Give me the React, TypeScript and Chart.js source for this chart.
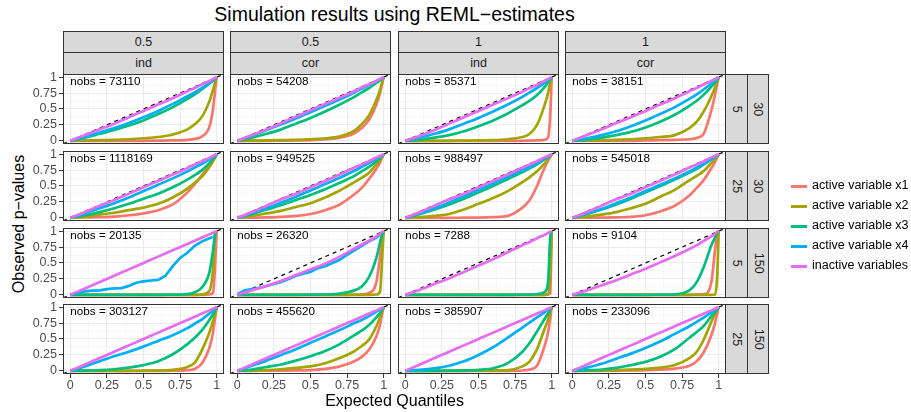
import { useEffect, useRef } from 'react';
import { Chart, registerables } from 'chart.js';

Chart.register(...registerables);

const FONT = '"Liberation Sans", Arial, Helvetica, sans-serif';

// facet labels (columns: alpha / structure, rows: p / n)
const COL_ALPHA = ['0.5', '0.5', '1', '1'];
const COL_STRUCT = ['ind', 'cor', 'ind', 'cor'];
const ROW_P = ['5', '25', '5', '25'];
const ROW_N = ['30', '30', '150', '150'];
const NOBS = [73110, 54208, 85371, 38151, 1118169, 949525, 988497, 545018, 20135, 26320, 7288, 9104, 303127, 455620, 385907, 233096];

const SERIES = ['active variable x1', 'active variable x2', 'active variable x3', 'active variable x4', 'inactive variables'];
const COLORS = ['#F8766D', '#A3A500', '#00BF7D', '#00B0F6', '#E76BF3'];

// expected quantiles at which the observed p-values were read
const Q = [0, 0.1, 0.2, 0.3, 0.4, 0.5, 0.6, 0.7, 0.8, 0.85, 0.9, 0.95, 0.975, 0.99, 1];
const Q_FINE = [0, 0.05, 0.1, 0.15, 0.2, 0.25, 0.3, 0.35, 0.4, 0.45, 0.5, 0.55, 0.6, 0.65, 0.7, 0.75, 0.8, 0.85, 0.9, 0.95, 0.975];

const MAJOR_BREAKS = [0, 0.25, 0.5, 0.75, 1];
const MINOR_BREAKS = [0.125, 0.375, 0.625, 0.875];
const AXIS_LIMITS = [-0.05, 1.05];

// one row per panel, row-major order
const ACTIVE_X1 = [
  [0, 0, 0, 0, 0, 0, 0.003, 0.006, 0.015, 0.03, 0.07, 0.22, 0.5, 0.8, 1],
  [0, 0, 0, 0.003, 0.006, 0.012, 0.025, 0.05, 0.12, 0.2, 0.33, 0.57, 0.75, 0.9, 1],
  [0, 0, 0, 0, 0, 0, 0, 0, 0, 0.003, 0.006, 0.015, 0.05, 0.4, 1],
  [0, 0, 0, 0, 0, 0.005, 0.01, 0.015, 0.025, 0.045, 0.12, 0.48, 0.72, 0.9, 1],
  [0, 0.005, 0.01, 0.02, 0.04, 0.07, 0.12, 0.21, 0.4, 0.53, 0.67, 0.83, 0.91, 0.96, 1],
  [0, 0.003, 0.007, 0.015, 0.03, 0.06, 0.12, 0.21, 0.37, 0.47, 0.61, 0.77, 0.87, 0.95, 1],
  [0, 0, 0, 0, 0.002, 0.004, 0.01, 0.03, 0.16, 0.28, 0.5, 0.78, 0.9, 0.96, 1],
  [0, 0.002, 0.004, 0.008, 0.015, 0.04, 0.1, 0.19, 0.35, 0.47, 0.6, 0.78, 0.88, 0.95, 1],
  [0, 0, 0, 0, 0, 0, 0, 0, 0, 0, 0, 0.005, 0.03, 0.5, 1],
  [0, 0, 0, 0, 0, 0, 0, 0, 0.003, 0.008, 0.03, 0.2, 0.6, 0.9, 1],
  [0, 0, 0, 0, 0, 0, 0, 0, 0, 0, 0, 0, 0.005, 0.02, 1],
  [0, 0, 0, 0, 0, 0, 0, 0, 0, 0.003, 0.01, 0.2, 0.7, 0.95, 1],
  [0, 0, 0, 0, 0, 0, 0, 0.003, 0.01, 0.03, 0.12, 0.36, 0.6, 0.85, 1],
  [0, 0, 0.002, 0.004, 0.007, 0.012, 0.03, 0.07, 0.15, 0.22, 0.33, 0.54, 0.72, 0.9, 1],
  [0, 0, 0, 0, 0, 0, 0, 0, 0.005, 0.02, 0.08, 0.38, 0.6, 0.82, 1],
  [0, 0, 0, 0.002, 0.005, 0.01, 0.02, 0.035, 0.08, 0.15, 0.3, 0.56, 0.75, 0.9, 1],
];

const ACTIVE_X2 = [
  [0, 0.005, 0.01, 0.015, 0.025, 0.04, 0.06, 0.1, 0.18, 0.26, 0.38, 0.62, 0.8, 0.93, 1],
  [0, 0.003, 0.006, 0.01, 0.015, 0.025, 0.04, 0.07, 0.16, 0.26, 0.4, 0.64, 0.8, 0.92, 1],
  [0, 0, 0, 0, 0.003, 0.006, 0.01, 0.025, 0.06, 0.11, 0.25, 0.55, 0.75, 0.92, 1],
  [0, 0.005, 0.01, 0.015, 0.025, 0.04, 0.06, 0.09, 0.2, 0.3, 0.47, 0.7, 0.84, 0.94, 1],
  [0, 0.02, 0.05, 0.08, 0.12, 0.16, 0.22, 0.32, 0.46, 0.55, 0.65, 0.8, 0.89, 0.95, 1],
  [0, 0.03, 0.07, 0.11, 0.17, 0.23, 0.32, 0.43, 0.56, 0.63, 0.71, 0.84, 0.91, 0.96, 1],
  [0, 0.01, 0.03, 0.06, 0.13, 0.22, 0.31, 0.42, 0.56, 0.64, 0.73, 0.85, 0.92, 0.97, 1],
  [0, 0.02, 0.05, 0.09, 0.15, 0.22, 0.33, 0.44, 0.59, 0.66, 0.74, 0.86, 0.92, 0.97, 1],
  [0, 0, 0, 0, 0, 0, 0, 0, 0, 0, 0.005, 0.06, 0.4, 0.97, 1],
  [0, 0, 0, 0, 0, 0, 0, 0, 0, 0, 0, 0.005, 0.05, 0.6, 1],
  [0, 0, 0, 0, 0, 0, 0, 0, 0, 0, 0, 0, 0.01, 0.35, 1],
  [0, 0, 0, 0, 0, 0, 0, 0, 0, 0, 0, 0, 0.005, 0.3, 1],
  [0, 0, 0, 0, 0, 0.002, 0.005, 0.015, 0.06, 0.13, 0.33, 0.6, 0.78, 0.9, 1],
  [0, 0.005, 0.012, 0.025, 0.045, 0.07, 0.12, 0.2, 0.31, 0.39, 0.49, 0.7, 0.84, 0.94, 1],
  [0, 0, 0, 0, 0, 0.002, 0.005, 0.012, 0.07, 0.15, 0.34, 0.65, 0.8, 0.93, 1],
  [0, 0.002, 0.005, 0.01, 0.018, 0.03, 0.05, 0.09, 0.2, 0.3, 0.5, 0.77, 0.89, 0.96, 1],
];

const ACTIVE_X3 = [
  [0, 0.05, 0.11, 0.17, 0.24, 0.32, 0.42, 0.53, 0.66, 0.73, 0.81, 0.9, 0.95, 0.98, 1],
  [0, 0.05, 0.11, 0.18, 0.27, 0.36, 0.46, 0.57, 0.69, 0.76, 0.83, 0.91, 0.95, 0.98, 1],
  [0, 0.02, 0.05, 0.09, 0.15, 0.23, 0.32, 0.43, 0.56, 0.63, 0.72, 0.84, 0.92, 0.97, 1],
  [0, 0.02, 0.05, 0.09, 0.14, 0.21, 0.3, 0.41, 0.55, 0.63, 0.73, 0.85, 0.92, 0.97, 1],
  [0, 0.04, 0.09, 0.15, 0.22, 0.3, 0.38, 0.48, 0.6, 0.67, 0.75, 0.86, 0.93, 0.97, 1],
  [0, 0.06, 0.13, 0.2, 0.28, 0.36, 0.45, 0.55, 0.66, 0.73, 0.8, 0.89, 0.94, 0.98, 1],
  [0, 0.06, 0.13, 0.21, 0.3, 0.4, 0.5, 0.61, 0.72, 0.78, 0.84, 0.92, 0.96, 0.98, 1],
  [0, 0.06, 0.13, 0.21, 0.3, 0.4, 0.5, 0.6, 0.71, 0.77, 0.84, 0.92, 0.96, 0.98, 1],
  [0, 0, 0, 0, 0, 0, 0, 0.002, 0.01, 0.04, 0.12, 0.35, 0.7, 0.97, 1],
  [0, 0, 0, 0, 0, 0.002, 0.005, 0.02, 0.07, 0.13, 0.28, 0.58, 0.82, 0.96, 1],
  [0, 0, 0, 0, 0, 0, 0, 0, 0.002, 0.005, 0.01, 0.04, 0.2, 0.9, 1],
  [0, 0, 0, 0, 0, 0, 0.002, 0.008, 0.07, 0.2, 0.45, 0.78, 0.9, 0.97, 1],
  [0, 0.004, 0.01, 0.025, 0.05, 0.09, 0.15, 0.26, 0.42, 0.52, 0.64, 0.8, 0.89, 0.95, 1],
  [0, 0.02, 0.06, 0.1, 0.16, 0.23, 0.31, 0.42, 0.56, 0.63, 0.72, 0.84, 0.91, 0.97, 1],
  [0, 0, 0, 0.002, 0.006, 0.015, 0.04, 0.12, 0.3, 0.44, 0.62, 0.81, 0.9, 0.96, 1],
  [0, 0.008, 0.02, 0.045, 0.09, 0.14, 0.22, 0.34, 0.52, 0.61, 0.71, 0.86, 0.92, 0.97, 1],
];

const ACTIVE_X4 = [
  [0, 0.06, 0.13, 0.2, 0.28, 0.37, 0.47, 0.58, 0.7, 0.76, 0.83, 0.91, 0.95, 0.98, 1],
  [0, 0.08, 0.17, 0.26, 0.35, 0.45, 0.55, 0.65, 0.76, 0.82, 0.88, 0.94, 0.97, 0.99, 1],
  [0, 0.05, 0.11, 0.18, 0.27, 0.36, 0.46, 0.57, 0.69, 0.76, 0.83, 0.91, 0.95, 0.98, 1],
  [0, 0.04, 0.09, 0.15, 0.23, 0.32, 0.42, 0.53, 0.66, 0.73, 0.81, 0.9, 0.95, 0.98, 1],
  [0, 0.07, 0.15, 0.23, 0.32, 0.42, 0.52, 0.62, 0.73, 0.79, 0.85, 0.92, 0.96, 0.98, 1],
  [0, 0.07, 0.15, 0.24, 0.33, 0.43, 0.53, 0.63, 0.74, 0.8, 0.86, 0.93, 0.96, 0.98, 1],
  [0, 0.07, 0.15, 0.24, 0.34, 0.44, 0.54, 0.64, 0.75, 0.8, 0.86, 0.93, 0.96, 0.98, 1],
  [0, 0.07, 0.14, 0.23, 0.32, 0.42, 0.52, 0.62, 0.73, 0.79, 0.85, 0.92, 0.96, 0.98, 1],
  null,
  null,
  null,
  null,
  [0, 0.07, 0.15, 0.23, 0.3, 0.38, 0.47, 0.56, 0.67, 0.74, 0.81, 0.9, 0.95, 0.98, 1],
  [0, 0.08, 0.16, 0.25, 0.34, 0.44, 0.54, 0.64, 0.75, 0.8, 0.86, 0.93, 0.96, 0.98, 1],
  [0, 0.015, 0.04, 0.08, 0.15, 0.25, 0.37, 0.52, 0.68, 0.76, 0.84, 0.92, 0.96, 0.98, 1],
  [0, 0.05, 0.11, 0.19, 0.27, 0.36, 0.46, 0.58, 0.7, 0.77, 0.84, 0.92, 0.96, 0.98, 1],
];

// the few-observation panels have a ragged x4 curve, read on the finer grid
const ACTIVE_X4_FINE: Record<number, number[]> = {
  8: [0, 0.03, 0.055, 0.065, 0.07, 0.09, 0.1, 0.105, 0.14, 0.19, 0.21, 0.225, 0.235, 0.3, 0.45, 0.58, 0.66, 0.77, 0.84, 0.89, 0.91],
  9: [0.01, 0.07, 0.09, 0.11, 0.14, 0.17, 0.2, 0.25, 0.3, 0.33, 0.36, 0.42, 0.45, 0.5, 0.55, 0.63, 0.7, 0.77, 0.84, 0.9, 0.95],
};

const INACTIVE = [
  [0, 0.09, 0.18, 0.27, 0.37, 0.47, 0.57, 0.67, 0.78, 0.83, 0.89, 0.94, 0.97, 0.99, 1],
  [0, 0.09, 0.18, 0.28, 0.38, 0.48, 0.58, 0.68, 0.78, 0.84, 0.89, 0.94, 0.97, 0.99, 1],
  [0, 0.08, 0.17, 0.27, 0.37, 0.47, 0.57, 0.67, 0.77, 0.83, 0.88, 0.94, 0.97, 0.99, 1],
  [0, 0.09, 0.18, 0.28, 0.37, 0.47, 0.57, 0.67, 0.78, 0.83, 0.89, 0.94, 0.97, 0.99, 1],
  [0, 0.09, 0.19, 0.28, 0.38, 0.48, 0.58, 0.68, 0.78, 0.84, 0.89, 0.94, 0.97, 0.99, 1],
  [0, 0.09, 0.19, 0.29, 0.38, 0.48, 0.58, 0.68, 0.79, 0.84, 0.89, 0.95, 0.97, 0.99, 1],
  [0, 0.09, 0.19, 0.29, 0.38, 0.48, 0.58, 0.68, 0.79, 0.84, 0.89, 0.95, 0.97, 0.99, 1],
  [0, 0.09, 0.19, 0.29, 0.38, 0.48, 0.58, 0.68, 0.79, 0.84, 0.89, 0.95, 0.97, 0.99, 1],
  [0, 0.1, 0.2, 0.3, 0.4, 0.5, 0.6, 0.7, 0.8, 0.85, 0.9, 0.95, 0.975, 0.99, 1],
  [0, 0.07, 0.14, 0.22, 0.31, 0.4, 0.49, 0.6, 0.73, 0.79, 0.85, 0.92, 0.96, 0.99, 1],
  [0, 0.08, 0.17, 0.26, 0.36, 0.46, 0.56, 0.67, 0.78, 0.83, 0.89, 0.94, 0.97, 0.99, 1],
  [0, 0.07, 0.15, 0.23, 0.32, 0.41, 0.51, 0.61, 0.72, 0.78, 0.85, 0.92, 0.96, 0.99, 1],
  [0, 0.1, 0.2, 0.3, 0.4, 0.5, 0.6, 0.7, 0.8, 0.85, 0.9, 0.95, 0.975, 0.99, 1],
  [0, 0.1, 0.2, 0.3, 0.4, 0.5, 0.6, 0.7, 0.8, 0.85, 0.9, 0.95, 0.975, 0.99, 1],
  [0, 0.1, 0.2, 0.3, 0.4, 0.5, 0.6, 0.7, 0.8, 0.85, 0.9, 0.95, 0.975, 0.99, 1],
  [0, 0.1, 0.2, 0.3, 0.4, 0.5, 0.6, 0.7, 0.8, 0.85, 0.9, 0.95, 0.975, 0.99, 1],
];

const TABLES = [ACTIVE_X1, ACTIVE_X2, ACTIVE_X3, ACTIVE_X4, INACTIVE];

// panel geometry (px)
const PANEL_X = [63, 230, 398, 565];
const PANEL_Y = [74, 151, 228, 304];
const PANEL_W = 161;
const PANEL_H = 70;
const AX_L = 30;
const AX_B = 22;
const M = 10;

const BREAKS = [...MAJOR_BREAKS, ...MINOR_BREAKS].sort((a, b) => a - b);
const isMajor = (v: number) => MAJOR_BREAKS.includes(v);

function seriesPoints(index: number, s: number) {
  if (s === 3 && ACTIVE_X4_FINE[index]) {
    return ACTIVE_X4_FINE[index].map((y, i) => ({ x: Q_FINE[i], y }));
  }
  const ys = TABLES[s][index];
  if (!ys) return [];
  return ys.map((y, i) => ({ x: Q[i], y }));
}

function axis(showTicks: boolean, fit: (s: any) => void, padding: number) {
  return {
    type: 'linear',
    min: AXIS_LIMITS[0],
    max: AXIS_LIMITS[1],
    afterBuildTicks: (s: any) => {
      s.ticks = BREAKS.map((v) => ({ value: v }));
    },
    afterFit: fit,
    border: { display: false },
    grid: {
      color: (c: any) => (c.tick && isMajor(c.tick.value) ? '#EBEBEB' : '#F2F2F2'),
      lineWidth: (c: any) => (c.tick && isMajor(c.tick.value) ? 1.1 : 0.6),
      drawTicks: showTicks,
      tickLength: 4,
      tickWidth: 1,
      tickColor: (c: any) => (c.tick && isMajor(c.tick.value) ? '#333333' : 'rgba(0,0,0,0)'),
    },
    ticks: {
      display: showTicks,
      autoSkip: false,
      maxRotation: 0,
      padding,
      color: '#4D4D4D',
      font: { family: FONT, size: 12.5 },
      callback: (v: number) => (isMajor(v) ? String(v) : ''),
    },
  };
}

function panelDecor(nobs: number) {
  return {
    id: 'panelDecor',
    afterDatasetsDraw(chart: any) {
      const { ctx, chartArea: a, scales } = chart;
      ctx.save();
      ctx.fillStyle = '#000000';
      ctx.font = `11.7px ${FONT}`;
      ctx.textBaseline = 'alphabetic';
      ctx.textAlign = 'left';
      ctx.fillText(`nobs = ${nobs}`, scales.x.getPixelForValue(0), scales.y.getPixelForValue(1) + 7.5);
      ctx.strokeStyle = '#333333';
      ctx.lineWidth = 1;
      ctx.strokeRect(Math.round(a.left) + 0.5, Math.round(a.top) + 0.5, Math.round(a.width) - 1, Math.round(a.height) - 1);
      ctx.restore();
    },
  };
}

function Panel({ index }: { index: number }) {
  const ref = useRef<HTMLCanvasElement>(null);
  const row = Math.floor(index / 4);
  const col = index % 4;
  const left = col === 0;
  const bottom = row === 3;
  const cx = PANEL_X[col] - (left ? AX_L : M);
  const cy = PANEL_Y[row] - M;
  const cw = PANEL_W + (left ? AX_L : M) + M;
  const ch = PANEL_H + M + (bottom ? AX_B : M);

  useEffect(() => {
    const datasets: any[] = SERIES.map((name, s) => ({
      label: name,
      data: seriesPoints(index, s),
      borderColor: COLORS[s],
      backgroundColor: COLORS[s],
      borderWidth: 2.7,
      pointRadius: 0,
      fill: false,
      tension: 0,
      cubicInterpolationMode: s === 3 && ACTIVE_X4_FINE[index] ? 'default' : 'monotone',
      order: 5 - s,
    }));
    datasets.push({
      label: 'y = x',
      data: AXIS_LIMITS.map((v) => ({ x: v, y: v })),
      borderColor: '#000000',
      borderWidth: 1.2,
      borderDash: [4, 4],
      pointRadius: 0,
      fill: false,
      order: 10,
    });

    const chart = new Chart(ref.current as HTMLCanvasElement, {
      type: 'line',
      data: { datasets },
      options: {
        responsive: false,
        animation: false,
        events: [],
        layout: {
          padding: { left: left ? 0 : M, right: M, top: M, bottom: bottom ? 0 : M },
        },
        plugins: {
          legend: { display: false },
          tooltip: { enabled: false },
          title: { display: false },
        },
        scales: {
          x: axis(bottom, (s: any) => { s.height = bottom ? AX_B : 0; }, 0),
          y: axis(left, (s: any) => { s.width = left ? AX_L : 0; }, 2),
        },
      } as any,
      plugins: [panelDecor(NOBS[index])],
    } as any);
    return () => chart.destroy();
  }, [index, left, bottom]);

  return (
    <canvas
      ref={ref}
      width={cw}
      height={ch}
      style={{ position: 'absolute', left: cx, top: cy, width: cw, height: ch }}
    />
  );
}

const stripBox = {
  position: 'absolute' as const,
  boxSizing: 'border-box' as const,
  background: '#D9D9D9',
  border: '1px solid #333333',
  color: '#1A1A1A',
  fontSize: 12.5,
  lineHeight: 1,
  display: 'flex',
  alignItems: 'center',
  justifyContent: 'center',
};

export default function App() {
  return (
    <div
      style={{
        position: 'absolute',
        left: 0,
        top: 0,
        width: 911,
        height: 412,
        background: '#FFFFFF',
        fontFamily: FONT,
        overflow: 'hidden',
      }}
    >
      <div style={{ position: 'absolute', left: 94.5, width: 600, top: 4.5, fontSize: 19.5, lineHeight: 1, textAlign: 'center', color: '#000' }}>
        Simulation results using REML−estimates
      </div>

      {COL_ALPHA.map((a, c) => (
        <div key={`ta${c}`}>
          <div style={{ ...stripBox, left: PANEL_X[c], top: 31, width: PANEL_W, height: 22 }}>{a}</div>
          <div style={{ ...stripBox, left: PANEL_X[c], top: 52, width: PANEL_W, height: 23 }}>{COL_STRUCT[c]}</div>
        </div>
      ))}

      {ROW_P.map((p, r) => (
        <div key={`rs${r}`}>
          <div style={{ ...stripBox, left: 725, top: PANEL_Y[r], width: 23, height: PANEL_H }}>
            <span style={{ transform: 'rotate(90deg)', whiteSpace: 'nowrap' }}>{p}</span>
          </div>
          <div style={{ ...stripBox, left: 747, top: PANEL_Y[r], width: 22, height: PANEL_H }}>
            <span style={{ transform: 'rotate(90deg)', whiteSpace: 'nowrap' }}>{ROW_N[r]}</span>
          </div>
        </div>
      ))}

      {NOBS.map((_, i) => (
        <Panel key={i} index={i} />
      ))}

      <div style={{ position: 'absolute', left: 94.5, width: 600, top: 393, fontSize: 16, lineHeight: 1, textAlign: 'center', color: '#000' }}>
        Expected Quantiles
      </div>
      <div
        style={{
          position: 'absolute',
          left: 19,
          top: 224,
          fontSize: 16,
          lineHeight: 1,
          whiteSpace: 'nowrap',
          color: '#000',
          transform: 'translate(-50%, -50%) rotate(-90deg)',
        }}
      >
        Observed p−values
      </div>

      {SERIES.map((name, i) => {
        const cyLine = 186.7 + 20 * i;
        return (
          <div key={name}>
            <div style={{ position: 'absolute', left: 791, top: cyLine - 1.35, width: 16, height: 2.7, background: COLORS[i] }} />
            <div style={{ position: 'absolute', left: 812, top: cyLine - 7.3, fontSize: 12.5, lineHeight: 1, whiteSpace: 'nowrap', color: '#000' }}>
              {name}
            </div>
          </div>
        );
      })}
    </div>
  );
}
